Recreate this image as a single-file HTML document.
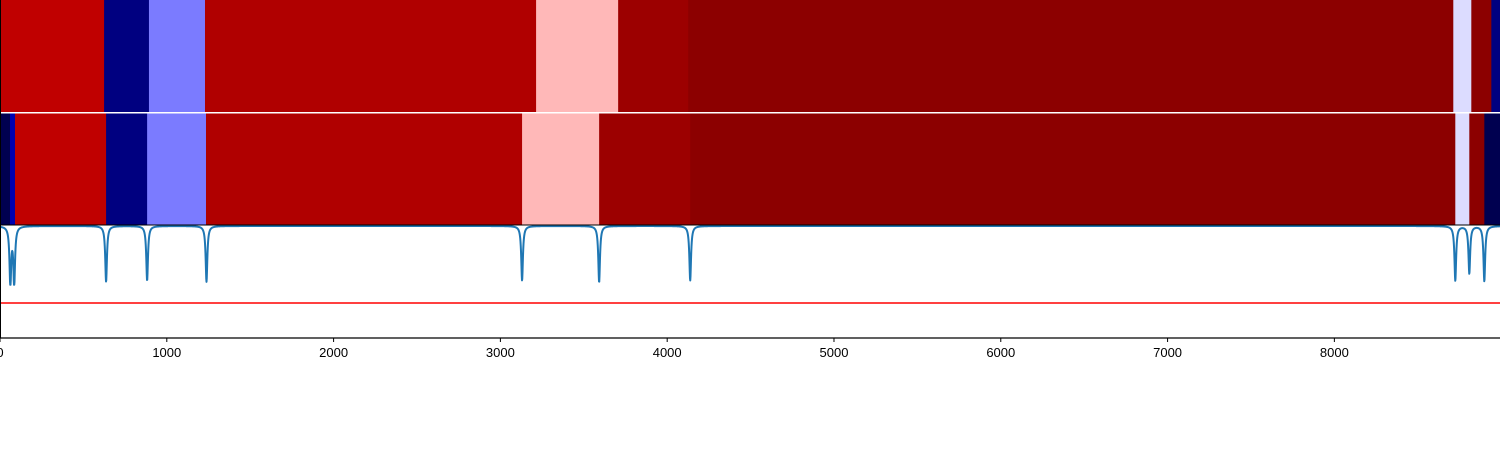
<!DOCTYPE html>
<html><head><meta charset="utf-8"><style>
body{margin:0;background:#fff;font-family:"Liberation Sans",sans-serif}
svg{display:block}
</style></head><body>
<svg id="chart" width="1500" height="450" xmlns="http://www.w3.org/2000/svg">
<g id="row1"></g>
<g id="row2"></g>
<g id="panel3"></g>
<g id="xaxis"></g>
</svg>
<script>
const row1Starts=[0,624,893,1229,3214,3706,4126,8713,8821,8941];
const row1Colors=["#c00000","#000080","#7b7bff","#b00000","#ffb8b8","#9c0000","#8c0000","#dcdcff","#8c0000","#000080"];
const row2Starts=[0,60,90,636,882,1235,3130,3592,4138,8725,8809,8899];
const row2Colors=["#000050","#0000b0","#c00000","#000080","#7b7bff","#b00000","#ffb8b8","#9c0000","#8c0000","#dcdcff","#8c0000","#000050"];
const dipCenters=[62,85,636,882,1238,3130,3592,4138,8725,8809,8899];
const dipDepths=[0.97,0.97,0.93,0.91,0.93,0.91,0.94,0.91,0.91,0.79,0.92];
const xTicks=[0,1000,2000,3000,4000,5000,6000,7000,8000];
const xMax=8993;
const NS="http://www.w3.org/2000/svg";
const sx=v=>v/xMax*1500;
function mk(t,a,p){const e=document.createElementNS(NS,t);for(const k in a)e.setAttribute(k,a[k]);p.appendChild(e);return e;}
function band(starts,colors,y0,h,g,nm){
  starts.forEach((s,i)=>{const e=i+1<starts.length?starts[i+1]:xMax;
    const r=mk('rect',{x:sx(s),y:y0,width:sx(e)-sx(s)+0.5,height:h,fill:colors[i]},g);
    
    });
}
band(row1Starts,row1Colors,0,112,document.getElementById('row1'),'top');
band(row2Starts,row2Colors,113.5,112,document.getElementById('row2'),'middle');
const p3=document.getElementById('panel3');
const top3=225,bot3=338;
const sy=v=>226+(1-v)*60;
let d="";
for(let px=0;px<=1500;px+=0.25){const x=px/1500*xMax;let v=1;
  dipCenters.forEach((c,i)=>{const u=(x-c)/6;v-=dipDepths[i]/(1+u*u);});
  d+=(px?"L":"M")+px.toFixed(2)+","+sy(Math.max(v,0.02)).toFixed(2);}
const ln=mk('path',{d:d,fill:"none",stroke:"#1f77b4","stroke-width":2,"stroke-linejoin":"round"},p3);


const th=mk('line',{x1:0,x2:1500,y1:303,y2:303,stroke:"#ff0000","stroke-width":1.5},p3);


mk('line',{x1:0.5,x2:0.5,y1:0,y2:bot3,stroke:"#000","stroke-width":1},p3);
mk('line',{x1:0,x2:1500,y1:top3,y2:top3,stroke:"#000","stroke-width":1},p3);
const ax=document.getElementById('xaxis');
mk('line',{x1:0,x2:1500,y1:bot3,y2:bot3,stroke:"#000","stroke-width":1.2},ax);
xTicks.forEach(t=>{const x=sx(t);
  mk('line',{x1:x,x2:x,y1:bot3,y2:bot3+4,stroke:"#000","stroke-width":1},ax);
  const tx=mk('text',{x:x,y:bot3+19,"text-anchor":"middle","font-size":"13","fill":"#000"},ax);
  tx.textContent=t;
  
  });
</script>
</body></html>
